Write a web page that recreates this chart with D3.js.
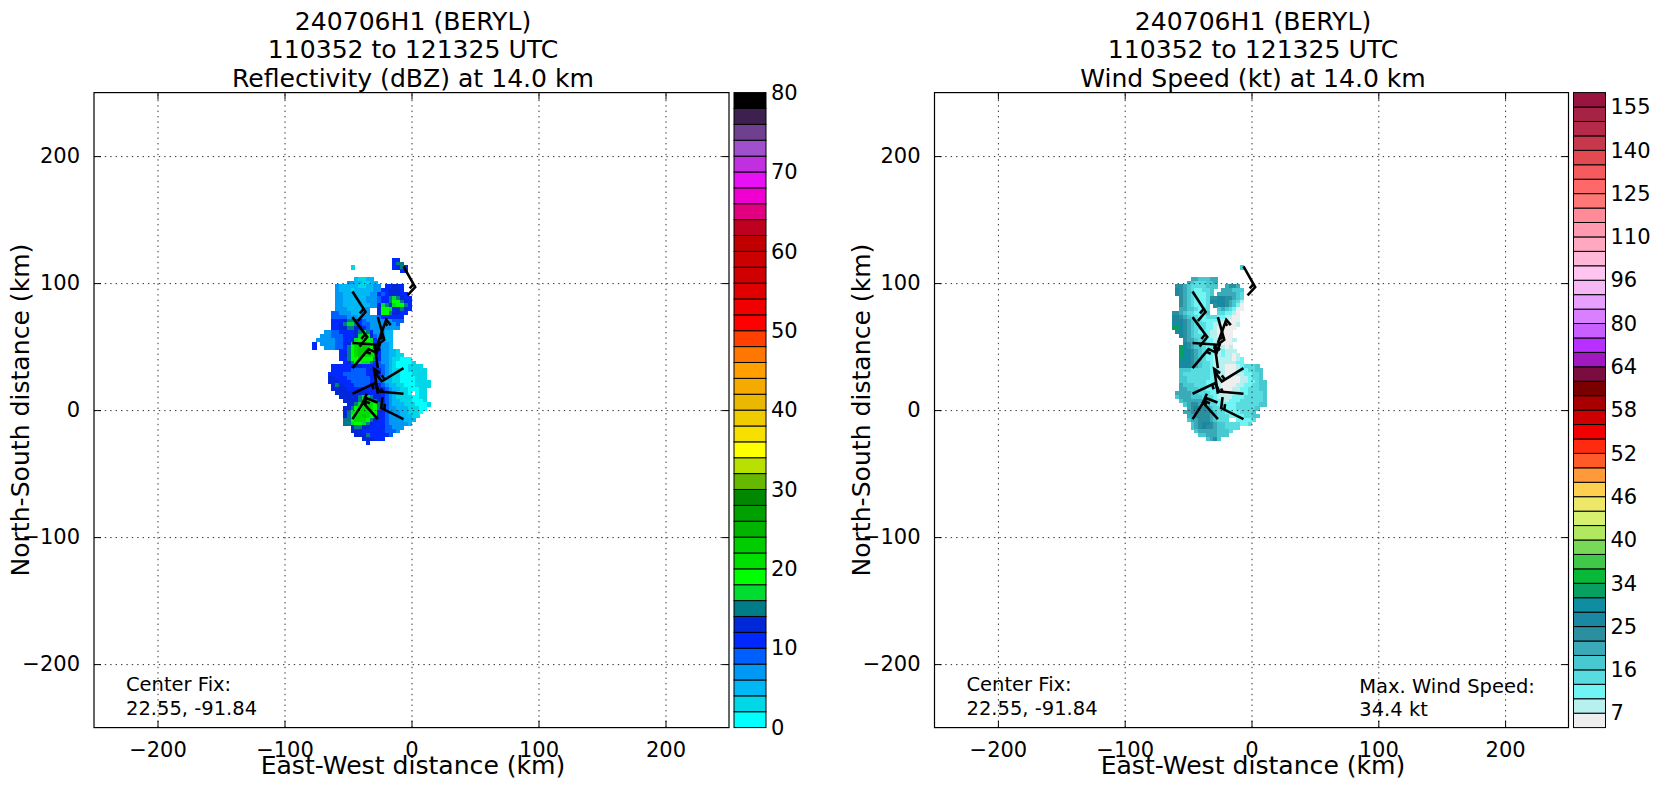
<!DOCTYPE html>
<html><head><meta charset="utf-8">
<script src="https://cdn.jsdelivr.net/npm/d3@7"></script>
<style>html,body{margin:0;background:#fff}svg{display:block}text{font-family:"DejaVu Sans",sans-serif;fill:#000}</style>
</head><body><svg id="c" width="1655" height="787"></svg>
<script>
// bins bottom-to-top
const reflColors=["#00ffff","#00d8e8","#00b8f5","#0098f5","#0060ff","#0028ff","#0028d8","#007b88","#00dd30","#00ff00","#00e000","#00cc00","#00b400","#00a000","#008800","#66b800","#b8e000","#ffff00","#f5e000","#eecc00","#eab800","#f5aa00","#ffa000","#ff7700","#ff4000","#ff0000","#f00000","#e00000","#d00000","#cc0000","#c00000","#c00020","#e00080","#f000d0","#e810f5","#c030e0","#a050cc","#704090","#3d2050","#000000"];
const windColors=["#eeeeee","#b8f0f0","#70f4f4","#58dce0","#48c8d0","#3aaab8","#2a90a0","#1a88a0","#0e8ea0","#08a060","#08b838","#40c848","#78d858","#b0e860","#d8f070","#eee868","#ffd050","#ff9a3a","#ff5a28","#ff2a10","#f00000","#cc0000","#a80000","#7a0000","#7a0c40","#a018c0","#b830ff","#c860ff","#d880ff","#e8a0ff","#f5b8f5","#ffc4f0","#ffb8d8","#ffa8c0","#ff9ab0","#ff8a9a","#ff7878","#ff6868","#f55a5f","#e04a50","#c8384c","#b52a48","#a62345","#99143f"];
const reflTicks=[0,10,20,30,40,50,60,70,80];
const windTicks=[7,16,25,34,40,46,52,58,64,80,96,110,125,140,155];
const distTicks=[-200,-100,0,100,200];
const cellKm=3, gridLeftKm=-78, gridTopKm=120;
// [row, first column, bin index per cell]
const reflRows=[[0,21,"55"],[1,21,"577"],[2,10,"1..........5676"],[3,23,"55"],[5,11,"21122"],[6,9,"33221122"],
[7,6,"322222112233.55665"],[8,6,"322212222233556665"],[9,6,"3322222223354566655"],[10,6,"33222222333455787655"],
[11,6,"33222222333455799765"],[12,6,"33222222233687689975"],[13,6,"333222233..699866765"],[14,5,"4433322233..69976655"],
[15,5,"4444333233334555555"],[16,5,"5556776543333333444"],[17,5,"556788754433333334"],[18,5,"556677655433333333"],
[19,3,"334455556787533322"],[20,2,"3334445556899643322"],[21,1,"33333445568999853322"],[22,0,"5.3333445689aaa854332"],
[23,0,"5..33344579abba974332"],[24,7,"5579abbaa8533221"],[25,7,"5679abaaa85332211"],[26,7,"55799a9997533211000"],
[27,8,"5679988754332100001"],[28,5,"555556665555443210001111"],[29,5,"5555544445665432110011111"],
[30,4,"55554444445565432110001111"],[31,4,"66555444444554332110000111"],[32,4,"666555444445543221100001111"],
[33,5,"67655544445554322110001111"],[34,5,"6666555555555543221100011"],[35,6,"66665566655654321110.011"],
[36,7,"66666788766543211110011"],[37,8,"6666799976543221110001"],[38,9,"66789aa976432221110001"],
[39,8,"6679aaaa97643322211100"],[40,8,"6789aaaa9654333221110"],[41,8,"679aaba9865433322211"],
[42,8,"779aaa9765543333222"],[43,8,"778998765554333332"],[44,10,"67766555544333"],[45,10,"6665555554443"],
[46,11,"6667555554"],[47,13,"666555"],[48,14,"5"]];
const windRows=[[2,23,"4"],[5,10,"5544455"],[6,9,"54333445"],[7,6,"66543333444..5665"],[8,6,"7654322334..555444"],
[9,6,"7654322234.5555543"],[10,7,"65432223667766543"],[11,7,"65432223778765431"],[12,7,"65432223.67765420"],
[13,7,"55443233..4543200"],[14,5,"6654332234..332210"],[15,5,"776543322333221100"],[16,5,"777654332222211000"],
[17,5,"777654333221100001"],[18,5,"99865433322100000"],[19,6,"776543222110000"],[20,7,"76543322110000"],
[21,8,"65543322110001"],[22,8,"7654332211000"],[23,7,"98654432211101"],[24,7,"987654332212111"],
[25,7,"9876543221121101"],[26,7,"88765432211111012"],[27,7,"77765433211111122"],[28,7,"777654332111000123334"],
[29,7,"4443333322110001223344"],[30,7,"4333333322110001122334"],[31,7,"4433333322110000112334"],
[32,7,"44333332221000001122344"],[33,7,"54443332221000011223344"],[34,7,"55444332221000112233344"],
[35,6,"555544333221101122233334"],[36,6,"455544433321111222333334"],[37,7,"45555543322112223333334"],
[38,8,"4566554332222233333344"],[39,9,"5676654332222333334"],[40,8,"5566666543322223334"],
[41,9,"5566665433322223344"],[42,9,"45566654333..22223"],[43,10,"4567765443333223"],[44,10,"4567665443333"],
[45,11,"4555554443"],[46,12,"44555444"],[47,14,"4564"]];
// wind barbs in km: station, staff end, feather end
const barbX=[-6.3,-46.5,-46.5,-46.5,-46.5,-26.5,-26.5,-26.5,-26.5,-6.3,-46.5,-6.3,-6.3,-46.5,-26.5];
const barbY=[113.1,93.4,73.2,52.8,33.1,73.2,52.8,33.1,12.9,33.1,12.9,12.9,-7.1,-7.1,-7.1];
const staffX=[2.9,-36.2,-34.9,-25.2,-33.9,-21.5,-19.9,-28.9,-29.4,-23.4,-28.6,-25.5,-23.9,-35.7,-38.3];
const staffY=[96.9,77.4,57.5,51.4,48,55.4,71.1,50.1,32.3,22.6,21.3,14.7,1.6,9.4,6];
const featherX=[-3.1,-42.3,-40.9,-27.8,-26.8,-26.8,-16.3,-24.7,-24.7,-28.3,-26,-27.8,-22.8,-26.8,-35.2];
const featherY=[90.3,70.3,50.1,44.4,44.9,51.4,66.9,47.5,29.1,29.1,13.9,19.9,10.2,6,12.9];

const panels=[
 {left:94,right:729,title:"Reflectivity (dBZ) at 14.0 km",rows:reflRows,colors:reflColors,maxText:null},
 {left:934.5,right:1568.5,title:"Wind Speed (kt) at 14.0 km",rows:windRows,colors:windColors,maxText:["Max. Wind Speed:","34.4 kt"]}
];
const plotTop=92.6,plotBottom=727.6;
const svg=d3.select("#c");
panels.forEach((p,pi)=>{
 const x=d3.scaleLinear([-250,250],[p.left,p.right]);
 const y=d3.scaleLinear([-250,250],[plotBottom,plotTop]);
 const g=svg.append("g");
 const cells=[];
 p.rows.forEach(([r,c0,s])=>[...s].forEach((ch,i)=>{
   if(ch==="."||ch===" ")return;
   cells.push({k:gridLeftKm+(c0+i)*cellKm,t:gridTopKm-r*cellKm,l:parseInt(ch,36)});
 }));
 g.selectAll("rect.cell").data(cells).join("rect").attr("class","cell")
  .attr("x",d=>x(d.k)).attr("y",d=>y(d.t))
  .attr("width",d=>x(d.k+cellKm)-x(d.k)+0.4).attr("height",d=>y(d.t-cellKm)-y(d.t)+0.4)
  .attr("fill",d=>p.colors[d.l]).attr("shape-rendering","crispEdges");
 // grid
 const gridV=g.append("g").attr("transform",`translate(0,${plotBottom})`).call(d3.axisBottom(x).tickValues(distTicks).tickSize(-(plotBottom-plotTop)).tickFormat(""));
 const gridH=g.append("g").attr("transform",`translate(${p.left},0)`).call(d3.axisLeft(y).tickValues(distTicks).tickSize(-(p.right-p.left)).tickFormat(""));
 [gridV,gridH].forEach(a=>{a.select(".domain").remove();a.selectAll("line").attr("stroke","#333").attr("stroke-width",1).attr("stroke-dasharray","1.4 4");});
 // barbs
 const b=g.append("g").attr("fill","none").attr("stroke","#000").attr("stroke-width",2.6);
 barbX.forEach((_,i)=>{
  const sx=x(barbX[i]),sy=y(barbY[i]),ex=x(staffX[i]),ey=y(staffY[i]),fx=x(featherX[i]),fy=y(featherY[i]);
  const hx=sx+(ex-sx)*0.86,hy=sy+(ey-sy)*0.86;
  b.append("path").attr("d",d3.line()([[sx,sy],[ex,ey],[fx,fy]]));
  b.append("path").attr("d",d3.line()([[hx,hy],[hx+(fx-ex)*0.5,hy+(fy-ey)*0.5]]));
 });
 // frame and ticks
 const tk=7;
 const ax=(gen,tr,fmt)=>{const a=g.append("g").attr("transform",tr).call(gen.tickValues(distTicks).tickSize(-tk).tickPadding(14).tickSizeOuter(0));
   a.select(".domain").remove();a.selectAll("line").attr("stroke","#000");a.selectAll("text").attr("font-size",21).attr("font-family","DejaVu Sans");
   if(!fmt)a.selectAll("text").remove();return a;};
 ax(d3.axisBottom(x),`translate(0,${plotBottom})`,true);
 ax(d3.axisLeft(y),`translate(${p.left},0)`,true);
 ax(d3.axisTop(x),`translate(0,${plotTop})`,false);
 ax(d3.axisRight(y),`translate(${p.right},0)`,false);
 g.append("rect").attr("x",p.left).attr("y",plotTop).attr("width",p.right-p.left).attr("height",plotBottom-plotTop).attr("fill","none").attr("stroke","#000").attr("stroke-width",1.2);
 // titles
 const cx=(p.left+p.right)/2+1.5;
 ["240706H1 (BERYL)","110352 to 121325 UTC",p.title].forEach((t,i)=>
  g.append("text").attr("x",cx).attr("y",30+i*28.4).attr("text-anchor","middle").attr("font-size",25.1).text(t));
 g.append("text").attr("x",cx).attr("y",773.5).attr("text-anchor","middle").attr("font-size",25.1).text("East-West distance (km)");
 g.append("text").attr("transform",`translate(${p.left-65},${(plotTop+plotBottom)/2}) rotate(-90)`).attr("text-anchor","middle").attr("font-size",25.1).text("North-South distance (km)");
 ["Center Fix:","22.55, -91.84"].forEach((t,i)=>
  g.append("text").attr("x",p.left+32).attr("y",691+i*23.5).attr("font-size",19.5).text(t));
 if(p.maxText)p.maxText.forEach((t,i)=>
  g.append("text").attr("x",x(85)).attr("y",692.5+i*23.5).attr("font-size",19.5).text(t));
 // colour bar
 const bx=p.right+5,bw=32,n=p.colors.length;
 const bin=d3.scaleLinear([0,n],[plotBottom,plotTop]);
 const cb=g.append("g");
 cb.selectAll("rect").data(p.colors).join("rect")
  .attr("x",bx).attr("width",bw).attr("y",(d,i)=>bin(i+1)).attr("height",(d,i)=>bin(i)-bin(i+1))
  .attr("fill",d=>d).attr("stroke","#000").attr("stroke-width",1);
 const lab=pi===0?reflTicks:windTicks;
 const pos=pi===0?d3.scaleLinear([0,80],[plotBottom,plotTop])
                 :d3.scaleLinear(windTicks,windTicks.map((_,i)=>bin(1+3*i)));
 const la=g.append("g").attr("transform",`translate(${bx+bw},0)`).call(d3.axisRight(pos).tickValues(lab).tickSize(0).tickPadding(5).tickFormat(d3.format("d")));
 la.select(".domain").remove();
 la.selectAll("text").attr("font-size",21).attr("font-family","DejaVu Sans");
});
</script></body></html>
